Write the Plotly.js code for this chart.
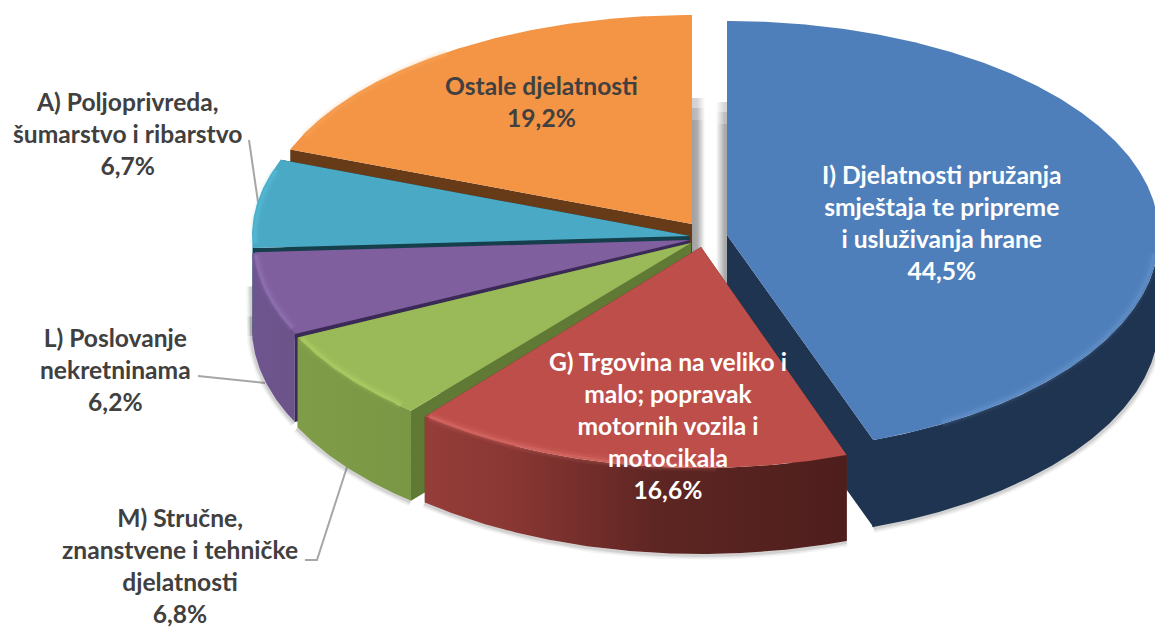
<!DOCTYPE html>
<html><head><meta charset="utf-8">
<script src="https://cdn.plot.ly/plotly-3.0.1.min.js"></script>
<style>html,body{margin:0;padding:0;background:#fff;overflow:hidden}#c{width:1155px;height:629px}</style>
</head><body><div id="c"></div>
<script>
// ---- data (clockwise from 12 o'clock) ----
const categories = [
  'I) Djelatnosti pružanja<br>smještaja te pripreme<br>i usluživanja hrane',
  'G) Trgovina na veliko i<br>malo; popravak<br>motornih vozila i<br>motocikala',
  'M) Stručne,<br>znanstvene i tehničke<br>djelatnosti',
  'L) Poslovanje<br>nekretninama',
  'A) Poljoprivreda,<br>šumarstvo i ribarstvo',
  'Ostale djelatnosti'
];
const shares = [44.5, 16.6, 6.8, 6.2, 6.7, 19.2];

// ---- presentation ----
const apexX  = [727, 701, 691, 690, 690, 692];
const apexY  = [235, 247, 243, 240, 236, 224];
const radX   = [432, 430, 436, 438, 438, 430];
const radY   = [218, 221, 219, 218, 214, 209];
const radUp  = [214, 221, 219, 218, 214, 209];
const depth  = [87, 86, 90, 88, 87, 87];
const topCol = ['#4f7fbb', '#bd4e4a', '#9aba59', '#7f5f9e', '#4aa9c4', '#f49445'];
const cutCol = ['#1f3450', '#5a2321', '#607a35', '#3b2a58', '#163f4c', '#673a18'];
const sideScale = [
  [[0,'#1f3450'],[1,'#1f3450']],
  [[0,'#953d39'],[0.2,'#8a3733'],[0.42,'#6f2c29'],[0.54,'#5e2623'],[1,'#4e1e1c']],
  [[0,'#7f9c48'],[1,'#7a9745']],
  [[0,'#6f5590'],[1,'#6b5488']],
  [[0,'#3a8ea6'],[1,'#3a8ea6']],
  [[0,'#673a18'],[1,'#673a18']]
];
const glowCol   = ['#6d9ad2', '#ea7f78', '#b9dc6a', '#9b7fc0', '#5cc8e6', '#fba85f'];
const glowRange = [[95,150], [178,219.5], [222,244], [246,266], [268,288], [295,325]];
const labelX = [941, 668, 180, 115, 127, 541];
const labelY = [222, 425, 565, 369, 133, 101];
const labelCol = ['#ffffff', '#ffffff', '#404040', '#404040', '#404040', '#404040'];

const fmt = v => v.toFixed(1).replace('.', ',') + '%';
const total = shares.reduce((a, b) => a + b, 0);
const starts = []; let acc = 0;
shares.forEach(v => { starts.push(acc / total * 360); acc += v; });
const ends = starts.map((s, i) => s + shares[i] / total * 360);

const P = (i, deg, k = 1, dy = 0) => {
  const r = deg * Math.PI / 180, c = Math.cos(r);
  return [apexX[i] + k * radX[i] * Math.sin(r), apexY[i] - k * (c > 0 ? radUp[i] : radY[i]) * c + dy];
};
const arc = (i, a, b, k = 1, dy = 0) => {
  const n = Math.max(2, Math.ceil(Math.abs(b - a) * 2)), out = [];
  for (let j = 0; j <= n; j++) out.push(P(i, a + (b - a) * j / n, k, dy));
  return out;
};
const poly = (pts, extra) => Object.assign({
  type: 'scatter', mode: 'lines', x: pts.map(p => p[0]), y: pts.map(p => p[1]),
  fill: 'toself', line: { width: 0 }, hoverinfo: 'skip', showlegend: false
}, extra);
const stroke = (pts, color, width, opacity) => ({
  type: 'scatter', mode: 'lines', x: pts.map(p => p[0]), y: pts.map(p => p[1]),
  line: { color, width, shape: 'linear' }, opacity, hoverinfo: 'skip', showlegend: false
});

const traces = [];
// soft shadows in the gap between the exploded slices (fading upward)
[[98,0.35],[108,0.3],[120,0.35]].forEach(t => {
  traces.push(poly([[692,t[0]],[705,t[0]],[705,262],[692,262]], {
    opacity: t[1],
    fillgradient: { type: 'horizontal', colorscale: [[0,'#777777'],[0.4,'#888888'],[1,'#ffffff']] }
  }));
  traces.push(poly([[716,t[0]+4],[728,t[0]+4],[728,285],[716,285]], {
    opacity: t[1],
    fillgradient: { type: 'horizontal', colorscale: [[0,'#ffffff'],[0.7,'#8a8a8a'],[1,'#808080']] }
  }));
});

const order = [0, 5, 4, 3, 2, 1];
order.forEach(i => {
  const s = starts[i], e = ends[i], d = depth[i];
  const apex = [apexX[i], apexY[i]];
  const from = Math.max(s, 90), to = Math.min(e, 272);
  // soft ground shadow under the outer wall
  if (to > from) {
    const edge = arc(i, from, to, 1.002, d + 1);
    if (i === 3) { const l = edge[edge.length - 1]; edge.push([l[0] - 1, l[1] - 55]); }
    [[9,0.05],[6,0.08],[3,0.14]].forEach(w => {
      traces.push(stroke(edge, '#555555', w[0], w[1]));
    });
  }
  // cut faces
  [s, e].forEach(a => {
    const c = P(i, a);
    traces.push(poly([apex, c, [c[0], c[1] + d], [apex[0], apex[1] + d], apex], { fillcolor: cutCol[i] }));
  });
  // outer wall
  if (to > from) {
    const up = arc(i, from, to), down = arc(i, to, from, 1, d);
    traces.push(poly(up.concat(down), {
      fillgradient: { type: 'horizontal', colorscale: sideScale[i] }
    }));
  }
  // close the seam between the blue cut face and its wall
  if (i === 0) {
    const c = P(i, e);
    traces.push(stroke([c, [c[0], c[1] + d]], cutCol[i], 2, 1));
  }
  // top face
  const top = [apex].concat(arc(i, s, e), [apex]);
  traces.push(poly(top, {
    fillcolor: topCol[i], name: categories[i].replace(/<br>/g, ' '),
    hoverinfo: 'text', text: categories[i].replace(/<br>/g, ' ') + ' ' + fmt(shares[i]),
    hoveron: 'fills'
  }));
  // bevel glow along the rim
  const g = glowRange[i];
  [[11,0.07],[7,0.12],[3,0.3]].forEach(w => {
    traces.push(stroke(arc(i, g[0], g[1], 0.993), glowCol[i], w[0], w[1]));
  });
});

const annotations = categories.map((c, i) => ({
  x: labelX[i], y: labelY[i], xref: 'x', yref: 'y', xanchor: 'center', yanchor: 'middle',
  text: '<b>' + c + '<br>' + fmt(shares[i]) + '</b>', showarrow: false, align: 'center',
  font: { family: 'Lato, "Open Sans", sans-serif', size: 24.6, color: labelCol[i] }
}));

const leader = pts => ({
  type: 'path', xref: 'x', yref: 'y', layer: 'below',
  path: 'M' + pts.map(p => p.join(',')).join('L'),
  line: { color: '#a6a6a6', width: 2 }
});
const shapes = [
  leader([[249,140],[258,202]]),
  leader([[198,376],[265,383]]),
  leader([[347,467],[317,560],[305,560]])
];

Plotly.newPlot('c', traces, {
  width: 1155, height: 629, margin: { l: 0, r: 0, t: 0, b: 0 },
  paper_bgcolor: '#ffffff', plot_bgcolor: '#ffffff', showlegend: false,
  xaxis: { range: [0, 1155], visible: false, fixedrange: true },
  yaxis: { range: [629, 0], visible: false, fixedrange: true },
  annotations, shapes, hovermode: 'closest'
}, { displayModeBar: false });
</script></body></html>
